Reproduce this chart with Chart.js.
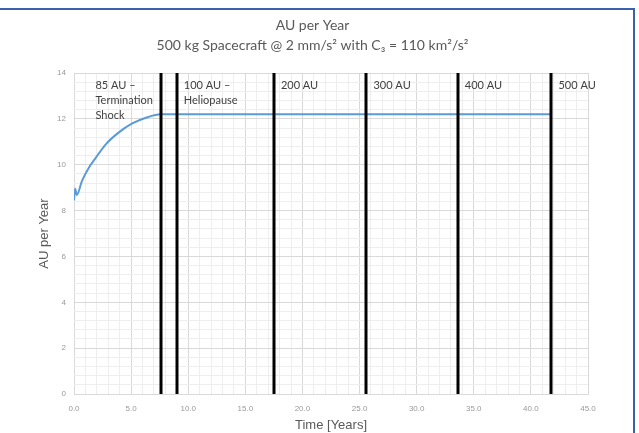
<!DOCTYPE html>
<html lang="en">
<head>
  <meta charset="UTF-8" />
  <title>AU per Year</title>
  <script src="https://cdn.jsdelivr.net/npm/chart.js"></script>
  <style>
    body {
      margin: 0;
      background: white;
      font-family: Lato, sans-serif;
    }
    .wrap {
      position: relative;
      width: 639px;
      height: 433px;
    }
    .frame {
      position: absolute;
      left: 0;
      top: 8px;
      width: 633px;
      height: 430px;
      border-top: 2px solid #3b60ad;
      border-right: 2px solid #3b60ad;
      pointer-events: none;
    }
  </style>
</head>
<body>
  <div class="wrap">
    <canvas id="auChart"></canvas>
    <div class="frame"></div>
  </div>

  <script>
    // speed curve
    const timeYears = [0, 0.1, 0.25, 0.7, 1.3, 1.9, 2.8, 3.9, 5.1, 6.3, 7.6, 41.8];
    const auPerYear = [8.45, 8.95, 8.68, 9.3, 9.87, 10.3, 10.9, 11.4, 11.8, 12.05, 12.2, 12.2];

    // distance markers
    const markerYears = [7.6, 9.0, 17.5, 25.6, 33.6, 41.8];
    const markerLabels = [
      ["85 AU \u2013", "Termination", "Shock"],
      ["100 AU \u2013", "Heliopause"],
      ["200 AU"],
      ["300 AU"],
      ["400 AU"],
      ["500 AU"]
    ];

    const titleLines = ["AU per Year", "500 kg Spacecraft @ 2 mm/s\u00b2 with C\u2083 = 110 km\u00b2/s\u00b2"];
    const xTitle = "Time [Years]";
    const yTitle = "AU per Year";

    const gridMajor = "#d9d9d9";
    const gridMinor = "#eeeeee";

    const markers = {
      id: "markers",
      afterDatasetsDraw(chart) {
        const { ctx, chartArea, scales } = chart;
        ctx.save();
        ctx.strokeStyle = "#000";
        ctx.lineWidth = 3;
        markerYears.forEach(t => {
          const x = Math.round(scales.x.getPixelForValue(t));
          ctx.beginPath();
          ctx.moveTo(x, chartArea.top);
          ctx.lineTo(x, chartArea.bottom);
          ctx.stroke();
        });
        ctx.fillStyle = "#404040";
        ctx.font = "11px Lato, sans-serif";
        ctx.textBaseline = "middle";
        markerYears.forEach((t, i) => {
          const x = scales.x.getPixelForValue(t);
          const lines = markerLabels[i];
          let x0 = x + 7;
          // first note sits left of its line
          if (i === 0) {
            const w = Math.max(...lines.map(s => ctx.measureText(s).width));
            x0 = x - 8 - w;
          }
          lines.forEach((s, j) => {
            ctx.fillText(s, x0, chartArea.top + 12 + j * 15);
          });
        });
        ctx.restore();
      }
    };

    new Chart(document.getElementById("auChart"), {
      type: "line",
      data: {
        datasets: [{
          data: timeYears.map((t, i) => ({ x: t, y: auPerYear[i] })),
          borderColor: "#5b9bd5",
          borderWidth: 2,
          pointRadius: 0,
          cubicInterpolationMode: "monotone",
          fill: false
        }]
      },
      options: {
        responsive: true,
        maintainAspectRatio: false,
        animation: false,
        layout: { padding: { left: 37, right: 51, top: 0, bottom: 0 } },
        plugins: {
          legend: { display: false },
          tooltip: { enabled: false },
          title: {
            display: true,
            text: titleLines,
            color: "#595959",
            font: { family: "Lato, sans-serif", size: 14, weight: "normal", lineHeight: 1.43 },
            padding: { top: 15, bottom: 18 }
          }
        },
        scales: {
          x: {
            type: "linear",
            min: 0,
            max: 45,
            afterFit: s => { s.height = 39; },
            ticks: {
              stepSize: 1,
              autoSkip: false,
              maxTicksLimit: 100,
              maxRotation: 0,
              padding: 10,
              color: "#999999",
              font: { size: 8 },
              callback: v => (Math.round(v) % 5 === 0 ? v.toFixed(1) : "")
            },
            grid: {
              drawTicks: false,
              color: c => (Math.round(c.tick.value) % 5 === 0 ? gridMajor : gridMinor)
            },
            border: { color: gridMajor },
            title: {
              display: true,
              text: xTitle,
              color: "#595959",
              font: { size: 13 },
              padding: 0
            }
          },
          y: {
            min: 0,
            max: 14,
            afterFit: s => { s.width = 37; },
            ticks: {
              stepSize: 0.4,
              autoSkip: false,
              maxTicksLimit: 100,
              padding: 8,
              color: "#999999",
              font: { size: 8 },
              callback: v => (Math.round(v * 10) % 20 === 0 ? Math.round(v).toString() : "")
            },
            grid: {
              drawTicks: false,
              color: c => (Math.round(c.tick.value * 10) % 20 === 0 ? gridMajor : gridMinor)
            },
            border: { display: false },
            title: {
              display: true,
              text: yTitle,
              color: "#595959",
              font: { size: 13 },
              padding: 0
            }
          }
        }
      },
      plugins: [markers]
    });
  </script>
</body>
</html>
